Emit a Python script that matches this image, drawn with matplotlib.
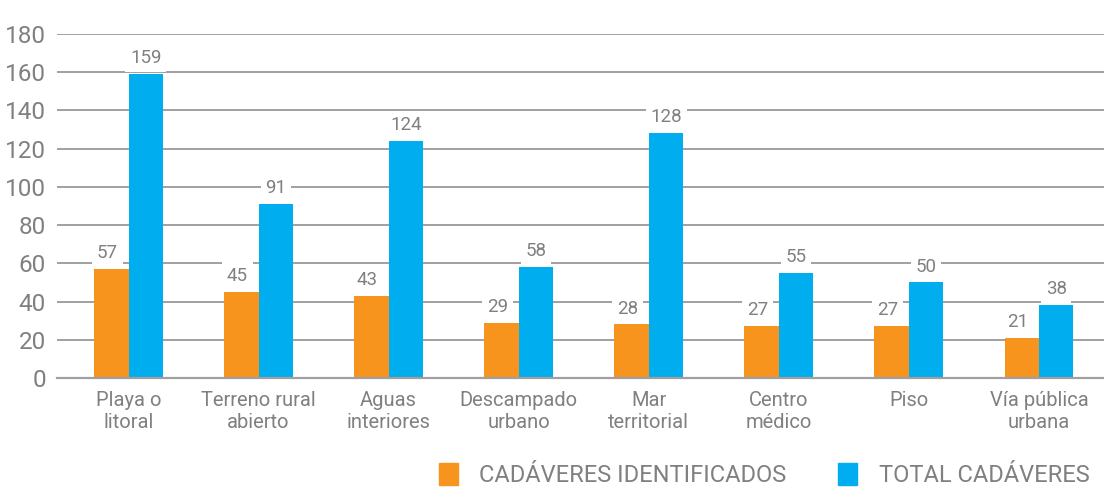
import numpy as np
import matplotlib as mpl
mpl.use('agg')
import matplotlib.pyplot as plt
from matplotlib.patches import Patch

categorias = ['Playa o\nlitoral', 'Terreno rural\nabierto', 'Aguas\ninteriores',
              'Descampado\nurbano', 'Mar\nterritorial', 'Centro\nmédico',
              'Piso', 'Vía pública\nurbana']
identificados = [57, 45, 43, 29, 28, 27, 27, 21]
total = [159, 91, 124, 58, 128, 55, 50, 38]

naranja = '#F7941D'
azul = '#00AEEF'
gris = '#808080'

plt.rcParams['font.family'] = ['Roboto', 'DejaVu Sans']

fig = plt.figure(figsize=(11.04, 4.91), dpi=100)
ax = fig.add_axes([57 / 1104, 113 / 491, 1 - 57 / 1104, 344 / 491])

x = np.arange(len(categorias))
w = 0.265
ax.bar(x - w / 2, identificados, w, color=naranja, zorder=2)
ax.bar(x + w / 2, total, w, color=azul, zorder=2)

# etiquetas de valor con fondo blanco que tapa la rejilla
for xi, a, b in zip(x, identificados, total):
    for pos, val in ((xi - w / 2 - 0.03, a), (xi + w / 2, b)):
        ax.annotate(str(val), (pos, val), xytext=(0, 5), textcoords='offset points',
                    ha='center', va='bottom', fontsize=13.5, color=gris, zorder=3,
                    bbox=dict(boxstyle='square,pad=0.25', fc='white', ec='none'))

ax.set_ylim(0, 180)
ax.set_xlim(-0.55, 7.5)
ax.set_yticks(range(0, 181, 20))
ax.set_xticks(x)
ax.set_xticklabels(categorias, fontsize=14.5, color=gris, linespacing=1.2)
ax.tick_params(axis='y', length=0, labelsize=17.5, labelcolor=gris, pad=8)
ax.tick_params(axis='x', length=0, pad=9)
ax.yaxis.grid(True, color='#a0a0a0', linewidth=1.4, zorder=0)
ax.set_axisbelow(True)
for s in ['top', 'right', 'left']:
    ax.spines[s].set_visible(False)
ax.spines['bottom'].set_color('#a0a0a0')
ax.spines['bottom'].set_linewidth(1.6)

handles = [Patch(color=naranja, label='CADÁVERES IDENTIFICADOS'),
           Patch(color=azul, label='TOTAL CADÁVERES')]
fig.legend(handles=handles, loc='lower right', ncol=2, frameon=False,
           bbox_to_anchor=(1.006, -0.036), labelcolor=gris,
           handlelength=0.8, handleheight=1.05, handletextpad=0.9, columnspacing=2.2,
           prop={'family': ['Roboto', 'DejaVu Sans'], 'size': 17})

fig.savefig('out.png', dpi=100)
